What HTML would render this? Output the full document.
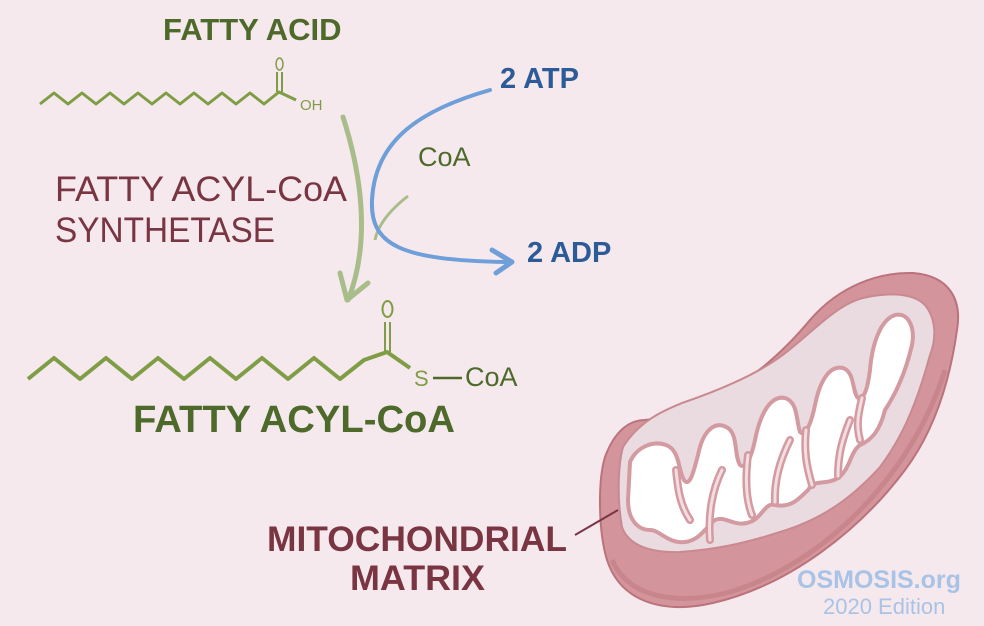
<!DOCTYPE html>
<html><head><meta charset="utf-8"><style>
html,body{margin:0;padding:0;background:#f5e9ed;}
svg{display:block}
text{font-family:"Liberation Sans",sans-serif;}
</style></head><body>
<svg width="984" height="626" viewBox="0 0 984 626" xmlns="http://www.w3.org/2000/svg">
<rect width="984" height="626" fill="#f5e9ed"/>
<!-- top chain -->
<polyline points="40,104 54,93 68,104 82,93 96,104 110,93 124,104 138,93 152,104 166,93 180,104 194,93 208,104 222,93 236,104 250,93 264,104 279,92 296,100" fill="none" stroke="#7f9d45" stroke-width="3" stroke-linejoin="round"/>
<line x1="277" y1="92" x2="277" y2="72" stroke="#7f9d45" stroke-width="2"/>
<line x1="282" y1="92" x2="282" y2="72" stroke="#7f9d45" stroke-width="2"/>
<ellipse cx="279.5" cy="64" rx="3.5" ry="6" fill="none" stroke="#7f9d45" stroke-width="1.5"/>
<text x="300" y="110" font-size="15" fill="#7f9d45">OH</text>
<text x="163" y="40" font-size="31" font-weight="bold" fill="#4d6a2a">FATTY ACID</text>
<!-- enzyme -->
<text x="55" y="201" font-size="35" fill="#7a3543" textLength="292" lengthAdjust="spacingAndGlyphs">FATTY ACYL-CoA</text>
<text x="55" y="242" font-size="35" fill="#7a3543" textLength="220" lengthAdjust="spacingAndGlyphs">SYNTHETASE</text>
<!-- green arrow -->
<path d="M343,117 C360,170 372,240 348,300" fill="none" stroke="#a9bd8a" stroke-width="5" stroke-linecap="round"/>
<path d="M340,273 L347,300 L368,283" fill="none" stroke="#a9bd8a" stroke-width="5" stroke-linecap="round" stroke-linejoin="round"/>
<!-- CoA -->
<path d="M408,196 C390,210 378,225 375,240" fill="none" stroke="#a9bd8a" stroke-width="3"/>
<text x="418" y="166" font-size="27" fill="#4d6a2a">CoA</text>
<!-- blue -->
<path d="M490,90 C420,110 375,140 372,200 C370,245 400,260 505,262" fill="none" stroke="#6f9fd8" stroke-width="4" stroke-linecap="round"/>
<path d="M492,250 L512,262 L496,273" fill="none" stroke="#6f9fd8" stroke-width="5" stroke-linecap="round" stroke-linejoin="round"/>
<text x="500" y="88" font-size="29" font-weight="bold" fill="#2d5b98">2 ATP</text>
<text x="527" y="262" font-size="29" font-weight="bold" fill="#2d5b98">2 ADP</text>
<!-- bottom chain -->
<polyline points="28,379 54,358 80,379 106,358 132,379 158,358 184,379 210,358 236,379 262,358 288,379 314,358 340,379 364,360 387,352 410,368" fill="none" stroke="#7f9d45" stroke-width="4" stroke-linejoin="round"/>
<line x1="385" y1="352" x2="385" y2="322" stroke="#7f9d45" stroke-width="2"/>
<line x1="390" y1="352" x2="390" y2="322" stroke="#7f9d45" stroke-width="2"/>
<ellipse cx="387.5" cy="309" rx="5" ry="8" fill="none" stroke="#7f9d45" stroke-width="2"/>
<text x="414" y="386" font-size="22" fill="#7f9d45">S</text>
<line x1="433" y1="378" x2="462" y2="378" stroke="#4d6a2a" stroke-width="2.5"/>
<text x="465" y="386" font-size="27" fill="#4d6a2a">CoA</text>
<text x="133" y="432" font-size="38" font-weight="bold" fill="#4d6a2a" textLength="322" lengthAdjust="spacingAndGlyphs">FATTY ACYL-CoA</text>
<!-- mitochondrion -->
<path d="M605,457 C615,430 630,420 645,420 C700,415 760,380 810,320 C840,285 880,272 913,273 C950,276 962,300 957,330 C950,380 935,430 905,470 C860,530 790,585 713,603 C660,615 620,600 607,560 C598,530 598,480 605,457 Z" fill="#d3959b" stroke="#bb737b" stroke-width="2"/>
<path d="M612,560 C630,600 680,605 730,592 C820,565 910,480 945,370" fill="none" stroke="#c0767e" stroke-width="5" opacity="0.5"/>
<path d="M623,447 C640,420 665,410 682,403 C720,390 755,375 780,357 C810,335 835,305 863,298 C890,292 913,293 925,305 C937,320 936,340 930,355 C915,410 900,440 880,467 C850,500 820,520 780,532 C740,545 710,550 680,552 C650,553 628,545 622,527 C617,500 618,465 623,447 Z" fill="#e9dbe0" stroke="#c98990" stroke-width="2"/>
<!-- white cristae region -->
<path d="M630,462 C636,448 652,440 666,445 C680,450 678,470 684,480 C690,488 694,470 698,455 C703,430 715,420 728,428 C738,435 734,455 740,465 C746,470 752,455 755,440 C760,415 770,395 785,398 C798,402 796,420 800,432 C806,438 812,420 815,405 C820,380 830,365 843,368 C855,372 852,392 858,398 C865,400 868,385 870,370 C872,345 880,320 895,315 C910,312 915,330 912,345 C905,375 895,395 885,410 C880,430 872,440 860,445 C850,452 850,470 838,478 C825,486 815,478 808,490 C798,500 790,508 775,505 C765,502 762,518 750,522 C735,528 725,515 715,520 C705,528 700,540 685,542 C668,544 660,530 650,530 C638,530 628,520 628,500 Z" fill="#ffffff" stroke="#d49aa1" stroke-width="4" stroke-linejoin="round"/>
<!-- folds -->
<g stroke="#d49aa1" stroke-width="8" stroke-linecap="round" fill="none">
<path d="M676,470 C678,490 680,505 690,520"/>
<path d="M710,540 C708,515 712,490 722,470"/>
<path d="M748,455 C745,480 746,500 752,515"/>
<path d="M775,502 C774,480 780,460 790,440"/>
<path d="M806,430 C804,450 806,465 812,485"/>
<path d="M838,476 C838,455 842,440 850,420"/>
<path d="M862,398 C858,415 856,425 860,440"/>
</g>
<g stroke="#f2dde1" stroke-width="3" stroke-linecap="round" fill="none">
<path d="M676,470 C678,490 680,505 690,520"/>
<path d="M710,540 C708,515 712,490 722,470"/>
<path d="M748,455 C745,480 746,500 752,515"/>
<path d="M775,502 C774,480 780,460 790,440"/>
<path d="M806,430 C804,450 806,465 812,485"/>
<path d="M838,476 C838,455 842,440 850,420"/>
<path d="M862,398 C858,415 856,425 860,440"/>
</g>
<!-- label -->
<line x1="575" y1="535" x2="618" y2="510" stroke="#7a3543" stroke-width="2"/>
<text x="267" y="551" font-size="35" font-weight="bold" fill="#7a3543" textLength="300" lengthAdjust="spacingAndGlyphs">MITOCHONDRIAL</text>
<text x="350" y="590" font-size="35" font-weight="bold" fill="#7a3543" textLength="135" lengthAdjust="spacingAndGlyphs">MATRIX</text>
<!-- watermark -->
<text x="797" y="588" font-size="25" font-weight="bold" fill="#a9c3e6">OSMOSIS.org</text>
<text x="823" y="614" font-size="22" fill="#a9c3e6">2020 Edition</text>
</svg>
</body></html>
